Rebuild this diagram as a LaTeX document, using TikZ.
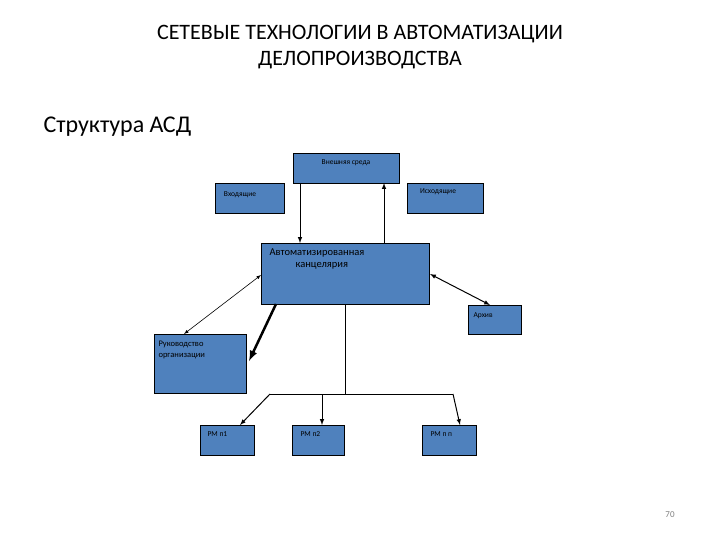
\documentclass[tikz,border=0pt]{standalone}
\usepackage{fontspec}
\setmainfont{Carlito}
\begin{document}
\begin{tikzpicture}[x=1pt,y=-1pt,
  bx/.style={draw=black,fill={rgb,255:red,79;green,129;blue,189},line width=0.8pt,inner sep=2pt},
  ar/.style={-latex,line width=1pt},
  lbl/.style={font=\fontsize{7.5}{8}\selectfont,text=black}]
\useasboundingbox (0,0) rectangle (720,540);
\node[align=center,font=\fontsize{22}{26}\selectfont] (t) at (360,47) {СЕТЕВЫЕ ТЕХНОЛОГИИ В АВТОМАТИЗАЦИИ\\ДЕЛОПРОИЗВОДСТВА};
\node[anchor=west,font=\fontsize{24}{28}\selectfont] (s) at (40,127) {Структура АСД};
\draw[bx] (293,153) rectangle (399,183); \node[lbl] (ve) at (346,163) {Внешняя среда};
\draw[bx] (215,183) rectangle (284,213); \node[lbl] (vh) at (240,195) {Входящие};
\draw[bx] (407,183) rectangle (483,213); \node[lbl] (ish) at (438,192) {Исходящие};
\draw[bx] (261,243) rectangle (429,304);
\node[font=\fontsize{10.5}{12}\selectfont,align=left,anchor=north west] (ak) at (266,245) {Автоматизированная\\\hspace*{26pt}канцелярия};
\draw[bx] (468,305) rectangle (521,334); \node[lbl,anchor=west] (ar) at (470,316) {Архив};
\draw[bx] (154,334) rectangle (246,393);
\node[font=\fontsize{8.5}{11}\selectfont,align=left,anchor=north west] (ru) at (155,338) {Руководство\\организации};
\draw[bx] (200,425) rectangle (254,455); \node[lbl,anchor=west] (p1) at (204,434) {РМ п1};
\draw[bx] (292,425) rectangle (344,455); \node[lbl,anchor=west] (p2) at (297,434) {РМ п2};
\draw[bx] (422,425) rectangle (476,455); \node[lbl,anchor=west] (pn) at (427,434) {РМ п п};
\node[font=\fontsize{9}{10}\selectfont,text=gray] (pg) at (670,515) {70};
\coordinate (a1) at (300,183); \coordinate (a2) at (300,243);
\coordinate (b1) at (384,243); \coordinate (b2) at (384,183);
\draw[ar] (a1) -- (a2);
\draw[ar] (b1) -- (b2);
\coordinate (c1) at (261,275); \coordinate (c2) at (184,334);
\draw[latex-latex,line width=0.6pt] (c1) -- (c2);
\coordinate (d1) at (276,304); \coordinate (d2) at (249,361);
\draw[-latex,line width=2.5pt] (d1) -- (d2);
\coordinate (e1) at (430,274); \coordinate (e2) at (490,305);
\draw[latex-latex,line width=1pt] (e1) -- (e2);
\coordinate (f1) at (345,304); \coordinate (f2) at (345,394);
\coordinate (h1) at (270,394); \coordinate (h2) at (322,394); \coordinate (h3) at (453,394);
\draw[line width=0.6pt] (f1) -- (f2);
\draw[line width=0.6pt] (h1) -- (h3);
\coordinate (g1) at (240,425); \coordinate (g2) at (322,425); \coordinate (g3) at (460,425);
\draw[ar] (h1) -- (g1);
\draw[ar] (h2) -- (g2);
\draw[ar] (h3) -- (g3);
\end{tikzpicture}
\end{document}
